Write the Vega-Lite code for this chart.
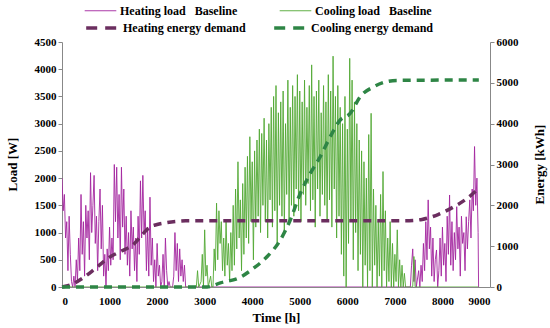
{
  "$schema": "https://vega.github.io/schema/vega-lite/v6.json",
  "width": 428,
  "height": 245,
  "autosize": {"type": "none"},
  "padding": {"left": 62, "top": 42, "right": 60, "bottom": 41},
  "background": "white",
  "config": {
    "view": {"stroke": null},
    "font": "Liberation Serif",
    "axis": {"labelFont": "Liberation Serif", "labelFontWeight": "bold", "labelFontSize": 11, "labelColor": "#000", "titleFont": "Liberation Serif", "titleFontWeight": "bold", "titleFontSize": 13, "titleColor": "#000", "domainColor": "#888", "tickColor": "#888", "grid": false, "tickSize": 4},
    "legend": {"labelFont": "Liberation Serif", "labelFontWeight": "bold", "labelFontSize": 12, "labelColor": "#000"}
  },
  "datasets": {
    "load": [
      {"s":"Heating load   Baseline","t":0,"v":2000},{"s":"Heating load   Baseline","t":25,"v":1400},{"s":"Heating load   Baseline","t":50,"v":1700},{"s":"Heating load   Baseline","t":75,"v":900},{"s":"Heating load   Baseline","t":100,"v":1200},{"s":"Heating load   Baseline","t":125,"v":300},{"s":"Heating load   Baseline","t":150,"v":1300},{"s":"Heating load   Baseline","t":175,"v":600},{"s":"Heating load   Baseline","t":200,"v":100},{"s":"Heating load   Baseline","t":225,"v":0},{"s":"Heating load   Baseline","t":250,"v":200},{"s":"Heating load   Baseline","t":275,"v":0},{"s":"Heating load   Baseline","t":300,"v":500},{"s":"Heating load   Baseline","t":325,"v":100},{"s":"Heating load   Baseline","t":350,"v":900},{"s":"Heating load   Baseline","t":375,"v":300},{"s":"Heating load   Baseline","t":400,"v":1700},{"s":"Heating load   Baseline","t":425,"v":600},{"s":"Heating load   Baseline","t":450,"v":1200},{"s":"Heating load   Baseline","t":475,"v":200},{"s":"Heating load   Baseline","t":500,"v":1500},{"s":"Heating load   Baseline","t":525,"v":900},{"s":"Heating load   Baseline","t":550,"v":1400},{"s":"Heating load   Baseline","t":575,"v":500},{"s":"Heating load   Baseline","t":600,"v":2100},{"s":"Heating load   Baseline","t":625,"v":1000},{"s":"Heating load   Baseline","t":650,"v":1500},{"s":"Heating load   Baseline","t":675,"v":2050},{"s":"Heating load   Baseline","t":700,"v":800},{"s":"Heating load   Baseline","t":725,"v":1300},{"s":"Heating load   Baseline","t":750,"v":300},{"s":"Heating load   Baseline","t":775,"v":1200},{"s":"Heating load   Baseline","t":800,"v":1800},{"s":"Heating load   Baseline","t":825,"v":700},{"s":"Heating load   Baseline","t":850,"v":1500},{"s":"Heating load   Baseline","t":875,"v":200},{"s":"Heating load   Baseline","t":900,"v":600},{"s":"Heating load   Baseline","t":925,"v":0},{"s":"Heating load   Baseline","t":950,"v":700},{"s":"Heating load   Baseline","t":975,"v":300},{"s":"Heating load   Baseline","t":1000,"v":1100},{"s":"Heating load   Baseline","t":1025,"v":400},{"s":"Heating load   Baseline","t":1050,"v":900},{"s":"Heating load   Baseline","t":1075,"v":500},{"s":"Heating load   Baseline","t":1100,"v":2250},{"s":"Heating load   Baseline","t":1125,"v":1200},{"s":"Heating load   Baseline","t":1150,"v":2200},{"s":"Heating load   Baseline","t":1175,"v":900},{"s":"Heating load   Baseline","t":1200,"v":1700},{"s":"Heating load   Baseline","t":1225,"v":500},{"s":"Heating load   Baseline","t":1250,"v":2200},{"s":"Heating load   Baseline","t":1275,"v":1100},{"s":"Heating load   Baseline","t":1300,"v":1800},{"s":"Heating load   Baseline","t":1325,"v":600},{"s":"Heating load   Baseline","t":1350,"v":1300},{"s":"Heating load   Baseline","t":1375,"v":400},{"s":"Heating load   Baseline","t":1400,"v":1000},{"s":"Heating load   Baseline","t":1425,"v":200},{"s":"Heating load   Baseline","t":1450,"v":1400},{"s":"Heating load   Baseline","t":1475,"v":700},{"s":"Heating load   Baseline","t":1500,"v":1100},{"s":"Heating load   Baseline","t":1525,"v":300},{"s":"Heating load   Baseline","t":1550,"v":900},{"s":"Heating load   Baseline","t":1575,"v":100},{"s":"Heating load   Baseline","t":1600,"v":1300},{"s":"Heating load   Baseline","t":1625,"v":600},{"s":"Heating load   Baseline","t":1650,"v":1950},{"s":"Heating load   Baseline","t":1675,"v":900},{"s":"Heating load   Baseline","t":1700,"v":2050},{"s":"Heating load   Baseline","t":1725,"v":1000},{"s":"Heating load   Baseline","t":1750,"v":1400},{"s":"Heating load   Baseline","t":1775,"v":300},{"s":"Heating load   Baseline","t":1800,"v":1100},{"s":"Heating load   Baseline","t":1825,"v":200},{"s":"Heating load   Baseline","t":1850,"v":1650},{"s":"Heating load   Baseline","t":1875,"v":400},{"s":"Heating load   Baseline","t":1900,"v":900},{"s":"Heating load   Baseline","t":1925,"v":100},{"s":"Heating load   Baseline","t":1950,"v":500},{"s":"Heating load   Baseline","t":1975,"v":0},{"s":"Heating load   Baseline","t":2000,"v":800},{"s":"Heating load   Baseline","t":2025,"v":200},{"s":"Heating load   Baseline","t":2050,"v":400},{"s":"Heating load   Baseline","t":2075,"v":0},{"s":"Heating load   Baseline","t":2100,"v":100},{"s":"Heating load   Baseline","t":2125,"v":600},{"s":"Heating load   Baseline","t":2150,"v":0},{"s":"Heating load   Baseline","t":2175,"v":900},{"s":"Heating load   Baseline","t":2200,"v":300},{"s":"Heating load   Baseline","t":2225,"v":0},{"s":"Heating load   Baseline","t":2250,"v":100},{"s":"Heating load   Baseline","t":2275,"v":0},{"s":"Heating load   Baseline","t":2325,"v":0},{"s":"Heating load   Baseline","t":2350,"v":200},{"s":"Heating load   Baseline","t":2375,"v":1000},{"s":"Heating load   Baseline","t":2400,"v":300},{"s":"Heating load   Baseline","t":2425,"v":800},{"s":"Heating load   Baseline","t":2450,"v":100},{"s":"Heating load   Baseline","t":2475,"v":700},{"s":"Heating load   Baseline","t":2500,"v":200},{"s":"Heating load   Baseline","t":2525,"v":500},{"s":"Heating load   Baseline","t":2550,"v":100},{"s":"Heating load   Baseline","t":2575,"v":400},{"s":"Heating load   Baseline","t":2600,"v":0},{"s":"Heating load   Baseline","t":7325,"v":0},{"s":"Heating load   Baseline","t":7350,"v":400},{"s":"Heating load   Baseline","t":7375,"v":700},{"s":"Heating load   Baseline","t":7400,"v":100},{"s":"Heating load   Baseline","t":7425,"v":500},{"s":"Heating load   Baseline","t":7450,"v":0},{"s":"Heating load   Baseline","t":7500,"v":300},{"s":"Heating load   Baseline","t":7525,"v":0},{"s":"Heating load   Baseline","t":7550,"v":400},{"s":"Heating load   Baseline","t":7575,"v":100},{"s":"Heating load   Baseline","t":7600,"v":800},{"s":"Heating load   Baseline","t":7625,"v":300},{"s":"Heating load   Baseline","t":7650,"v":1200},{"s":"Heating load   Baseline","t":7675,"v":500},{"s":"Heating load   Baseline","t":7700,"v":1600},{"s":"Heating load   Baseline","t":7725,"v":700},{"s":"Heating load   Baseline","t":7750,"v":1100},{"s":"Heating load   Baseline","t":7775,"v":200},{"s":"Heating load   Baseline","t":7800,"v":900},{"s":"Heating load   Baseline","t":7825,"v":100},{"s":"Heating load   Baseline","t":7850,"v":500},{"s":"Heating load   Baseline","t":7875,"v":680},{"s":"Heating load   Baseline","t":7900,"v":0},{"s":"Heating load   Baseline","t":7925,"v":300},{"s":"Heating load   Baseline","t":7950,"v":900},{"s":"Heating load   Baseline","t":7975,"v":200},{"s":"Heating load   Baseline","t":8000,"v":1100},{"s":"Heating load   Baseline","t":8025,"v":400},{"s":"Heating load   Baseline","t":8050,"v":800},{"s":"Heating load   Baseline","t":8075,"v":100},{"s":"Heating load   Baseline","t":8100,"v":1300},{"s":"Heating load   Baseline","t":8125,"v":600},{"s":"Heating load   Baseline","t":8150,"v":1690},{"s":"Heating load   Baseline","t":8175,"v":400},{"s":"Heating load   Baseline","t":8200,"v":1200},{"s":"Heating load   Baseline","t":8225,"v":300},{"s":"Heating load   Baseline","t":8250,"v":1000},{"s":"Heating load   Baseline","t":8275,"v":500},{"s":"Heating load   Baseline","t":8300,"v":1475},{"s":"Heating load   Baseline","t":8325,"v":700},{"s":"Heating load   Baseline","t":8350,"v":1100},{"s":"Heating load   Baseline","t":8375,"v":200},{"s":"Heating load   Baseline","t":8400,"v":1300},{"s":"Heating load   Baseline","t":8425,"v":800},{"s":"Heating load   Baseline","t":8450,"v":1000},{"s":"Heating load   Baseline","t":8475,"v":300},{"s":"Heating load   Baseline","t":8500,"v":1290},{"s":"Heating load   Baseline","t":8525,"v":700},{"s":"Heating load   Baseline","t":8550,"v":1200},{"s":"Heating load   Baseline","t":8575,"v":1600},{"s":"Heating load   Baseline","t":8600,"v":900},{"s":"Heating load   Baseline","t":8625,"v":1800},{"s":"Heating load   Baseline","t":8650,"v":1400},{"s":"Heating load   Baseline","t":8675,"v":2580},{"s":"Heating load   Baseline","t":8700,"v":1500},{"s":"Heating load   Baseline","t":8725,"v":2000},{"s":"Heating load   Baseline","t":8750,"v":1000},{"s":"Heating load   Baseline","t":8760,"v":0},
      {"s":"Cooling load   Baseline","t":0,"v":0},{"s":"Cooling load   Baseline","t":2825,"v":0},{"s":"Cooling load   Baseline","t":2850,"v":300},{"s":"Cooling load   Baseline","t":2875,"v":0},{"s":"Cooling load   Baseline","t":2925,"v":100},{"s":"Cooling load   Baseline","t":2950,"v":600},{"s":"Cooling load   Baseline","t":2975,"v":0},{"s":"Cooling load   Baseline","t":3000,"v":1050},{"s":"Cooling load   Baseline","t":3025,"v":200},{"s":"Cooling load   Baseline","t":3050,"v":400},{"s":"Cooling load   Baseline","t":3075,"v":0},{"s":"Cooling load   Baseline","t":3125,"v":200},{"s":"Cooling load   Baseline","t":3150,"v":0},{"s":"Cooling load   Baseline","t":3175,"v":0},{"s":"Cooling load   Baseline","t":3200,"v":700},{"s":"Cooling load   Baseline","t":3225,"v":300},{"s":"Cooling load   Baseline","t":3250,"v":1540},{"s":"Cooling load   Baseline","t":3275,"v":500},{"s":"Cooling load   Baseline","t":3300,"v":1400},{"s":"Cooling load   Baseline","t":3325,"v":800},{"s":"Cooling load   Baseline","t":3350,"v":1200},{"s":"Cooling load   Baseline","t":3375,"v":300},{"s":"Cooling load   Baseline","t":3400,"v":900},{"s":"Cooling load   Baseline","t":3425,"v":200},{"s":"Cooling load   Baseline","t":3450,"v":1200},{"s":"Cooling load   Baseline","t":3475,"v":400},{"s":"Cooling load   Baseline","t":3500,"v":800},{"s":"Cooling load   Baseline","t":3525,"v":100},{"s":"Cooling load   Baseline","t":3550,"v":1000},{"s":"Cooling load   Baseline","t":3575,"v":300},{"s":"Cooling load   Baseline","t":3600,"v":1500},{"s":"Cooling load   Baseline","t":3625,"v":400},{"s":"Cooling load   Baseline","t":3650,"v":1800},{"s":"Cooling load   Baseline","t":3675,"v":700},{"s":"Cooling load   Baseline","t":3700,"v":2300},{"s":"Cooling load   Baseline","t":3725,"v":900},{"s":"Cooling load   Baseline","t":3750,"v":1600},{"s":"Cooling load   Baseline","t":3775,"v":300},{"s":"Cooling load   Baseline","t":3800,"v":1900},{"s":"Cooling load   Baseline","t":3825,"v":600},{"s":"Cooling load   Baseline","t":3850,"v":2200},{"s":"Cooling load   Baseline","t":3875,"v":900},{"s":"Cooling load   Baseline","t":3900,"v":2400},{"s":"Cooling load   Baseline","t":3925,"v":800},{"s":"Cooling load   Baseline","t":3950,"v":2760},{"s":"Cooling load   Baseline","t":3975,"v":1200},{"s":"Cooling load   Baseline","t":4000,"v":2300},{"s":"Cooling load   Baseline","t":4025,"v":500},{"s":"Cooling load   Baseline","t":4050,"v":2500},{"s":"Cooling load   Baseline","t":4075,"v":1100},{"s":"Cooling load   Baseline","t":4100,"v":2700},{"s":"Cooling load   Baseline","t":4125,"v":1300},{"s":"Cooling load   Baseline","t":4150,"v":2900},{"s":"Cooling load   Baseline","t":4175,"v":1000},{"s":"Cooling load   Baseline","t":4200,"v":2820},{"s":"Cooling load   Baseline","t":4225,"v":1500},{"s":"Cooling load   Baseline","t":4250,"v":3100},{"s":"Cooling load   Baseline","t":4275,"v":1200},{"s":"Cooling load   Baseline","t":4300,"v":2700},{"s":"Cooling load   Baseline","t":4325,"v":900},{"s":"Cooling load   Baseline","t":4350,"v":3000},{"s":"Cooling load   Baseline","t":4375,"v":1600},{"s":"Cooling load   Baseline","t":4400,"v":3300},{"s":"Cooling load   Baseline","t":4425,"v":1100},{"s":"Cooling load   Baseline","t":4450,"v":3500},{"s":"Cooling load   Baseline","t":4475,"v":1400},{"s":"Cooling load   Baseline","t":4500,"v":3700},{"s":"Cooling load   Baseline","t":4525,"v":800},{"s":"Cooling load   Baseline","t":4550,"v":3200},{"s":"Cooling load   Baseline","t":4575,"v":1500},{"s":"Cooling load   Baseline","t":4600,"v":3400},{"s":"Cooling load   Baseline","t":4625,"v":1300},{"s":"Cooling load   Baseline","t":4650,"v":3600},{"s":"Cooling load   Baseline","t":4675,"v":1000},{"s":"Cooling load   Baseline","t":4700,"v":3000},{"s":"Cooling load   Baseline","t":4725,"v":1700},{"s":"Cooling load   Baseline","t":4750,"v":3800},{"s":"Cooling load   Baseline","t":4775,"v":1200},{"s":"Cooling load   Baseline","t":4800,"v":3300},{"s":"Cooling load   Baseline","t":4825,"v":1500},{"s":"Cooling load   Baseline","t":4850,"v":3700},{"s":"Cooling load   Baseline","t":4875,"v":1300},{"s":"Cooling load   Baseline","t":4900,"v":3500},{"s":"Cooling load   Baseline","t":4925,"v":1800},{"s":"Cooling load   Baseline","t":4950,"v":3900},{"s":"Cooling load   Baseline","t":4975,"v":1400},{"s":"Cooling load   Baseline","t":5000,"v":3600},{"s":"Cooling load   Baseline","t":5025,"v":1200},{"s":"Cooling load   Baseline","t":5050,"v":3400},{"s":"Cooling load   Baseline","t":5075,"v":1700},{"s":"Cooling load   Baseline","t":5100,"v":3800},{"s":"Cooling load   Baseline","t":5125,"v":1500},{"s":"Cooling load   Baseline","t":5150,"v":3300},{"s":"Cooling load   Baseline","t":5175,"v":1900},{"s":"Cooling load   Baseline","t":5200,"v":3700},{"s":"Cooling load   Baseline","t":5225,"v":1400},{"s":"Cooling load   Baseline","t":5250,"v":4080},{"s":"Cooling load   Baseline","t":5275,"v":1600},{"s":"Cooling load   Baseline","t":5300,"v":3500},{"s":"Cooling load   Baseline","t":5325,"v":1100},{"s":"Cooling load   Baseline","t":5350,"v":3600},{"s":"Cooling load   Baseline","t":5375,"v":1800},{"s":"Cooling load   Baseline","t":5400,"v":3800},{"s":"Cooling load   Baseline","t":5425,"v":1300},{"s":"Cooling load   Baseline","t":5450,"v":3200},{"s":"Cooling load   Baseline","t":5475,"v":1700},{"s":"Cooling load   Baseline","t":5500,"v":3700},{"s":"Cooling load   Baseline","t":5525,"v":1500},{"s":"Cooling load   Baseline","t":5550,"v":3400},{"s":"Cooling load   Baseline","t":5575,"v":1200},{"s":"Cooling load   Baseline","t":5600,"v":3900},{"s":"Cooling load   Baseline","t":5625,"v":1600},{"s":"Cooling load   Baseline","t":5650,"v":3600},{"s":"Cooling load   Baseline","t":5675,"v":1100},{"s":"Cooling load   Baseline","t":5700,"v":4240},{"s":"Cooling load   Baseline","t":5725,"v":1800},{"s":"Cooling load   Baseline","t":5750,"v":3500},{"s":"Cooling load   Baseline","t":5775,"v":900},{"s":"Cooling load   Baseline","t":5800,"v":3700},{"s":"Cooling load   Baseline","t":5825,"v":1300},{"s":"Cooling load   Baseline","t":5850,"v":3300},{"s":"Cooling load   Baseline","t":5875,"v":600},{"s":"Cooling load   Baseline","t":5900,"v":3000},{"s":"Cooling load   Baseline","t":5925,"v":200},{"s":"Cooling load   Baseline","t":5950,"v":3500},{"s":"Cooling load   Baseline","t":5975,"v":0},{"s":"Cooling load   Baseline","t":6000,"v":2900},{"s":"Cooling load   Baseline","t":6025,"v":800},{"s":"Cooling load   Baseline","t":6050,"v":4200},{"s":"Cooling load   Baseline","t":6075,"v":1200},{"s":"Cooling load   Baseline","t":6100,"v":3800},{"s":"Cooling load   Baseline","t":6125,"v":500},{"s":"Cooling load   Baseline","t":6150,"v":3400},{"s":"Cooling load   Baseline","t":6175,"v":1000},{"s":"Cooling load   Baseline","t":6200,"v":3000},{"s":"Cooling load   Baseline","t":6225,"v":300},{"s":"Cooling load   Baseline","t":6250,"v":2700},{"s":"Cooling load   Baseline","t":6275,"v":600},{"s":"Cooling load   Baseline","t":6300,"v":2500},{"s":"Cooling load   Baseline","t":6325,"v":0},{"s":"Cooling load   Baseline","t":6350,"v":2300},{"s":"Cooling load   Baseline","t":6375,"v":400},{"s":"Cooling load   Baseline","t":6400,"v":2000},{"s":"Cooling load   Baseline","t":6425,"v":0},{"s":"Cooling load   Baseline","t":6450,"v":2800},{"s":"Cooling load   Baseline","t":6475,"v":300},{"s":"Cooling load   Baseline","t":6500,"v":3190},{"s":"Cooling load   Baseline","t":6525,"v":0},{"s":"Cooling load   Baseline","t":6550,"v":1800},{"s":"Cooling load   Baseline","t":6575,"v":400},{"s":"Cooling load   Baseline","t":6600,"v":1500},{"s":"Cooling load   Baseline","t":6625,"v":0},{"s":"Cooling load   Baseline","t":6650,"v":1200},{"s":"Cooling load   Baseline","t":6675,"v":200},{"s":"Cooling load   Baseline","t":6700,"v":1700},{"s":"Cooling load   Baseline","t":6725,"v":0},{"s":"Cooling load   Baseline","t":6750,"v":2120},{"s":"Cooling load   Baseline","t":6775,"v":300},{"s":"Cooling load   Baseline","t":6800,"v":1400},{"s":"Cooling load   Baseline","t":6825,"v":0},{"s":"Cooling load   Baseline","t":6850,"v":900},{"s":"Cooling load   Baseline","t":6875,"v":100},{"s":"Cooling load   Baseline","t":6900,"v":1200},{"s":"Cooling load   Baseline","t":6925,"v":0},{"s":"Cooling load   Baseline","t":6950,"v":800},{"s":"Cooling load   Baseline","t":6975,"v":0},{"s":"Cooling load   Baseline","t":7000,"v":600},{"s":"Cooling load   Baseline","t":7025,"v":100},{"s":"Cooling load   Baseline","t":7050,"v":1050},{"s":"Cooling load   Baseline","t":7075,"v":0},{"s":"Cooling load   Baseline","t":7100,"v":500},{"s":"Cooling load   Baseline","t":7125,"v":0},{"s":"Cooling load   Baseline","t":7150,"v":400},{"s":"Cooling load   Baseline","t":7175,"v":0},{"s":"Cooling load   Baseline","t":7200,"v":250},{"s":"Cooling load   Baseline","t":7225,"v":0},{"s":"Cooling load   Baseline","t":7375,"v":0},{"s":"Cooling load   Baseline","t":7400,"v":560},{"s":"Cooling load   Baseline","t":7425,"v":0},{"s":"Cooling load   Baseline","t":8760,"v":0}
    ],
    "energy": [
      {"g":"Heating energy demand","t":0,"e":0},{"g":"Heating energy demand","t":200,"e":60},{"g":"Heating energy demand","t":440,"e":220},{"g":"Heating energy demand","t":700,"e":450},{"g":"Heating energy demand","t":1000,"e":730},{"g":"Heating energy demand","t":1250,"e":880},{"g":"Heating energy demand","t":1490,"e":1030},{"g":"Heating energy demand","t":1700,"e":1300},{"g":"Heating energy demand","t":1850,"e":1470},{"g":"Heating energy demand","t":2000,"e":1530},{"g":"Heating energy demand","t":2200,"e":1575},{"g":"Heating energy demand","t":2400,"e":1605},{"g":"Heating energy demand","t":2600,"e":1620},{"g":"Heating energy demand","t":7300,"e":1625},{"g":"Heating energy demand","t":7570,"e":1655},{"g":"Heating energy demand","t":7920,"e":1780},{"g":"Heating energy demand","t":8240,"e":1965},{"g":"Heating energy demand","t":8520,"e":2170},{"g":"Heating energy demand","t":8765,"e":2420},
      {"g":"Cooling energy demand","t":0,"e":0},{"g":"Cooling energy demand","t":3050,"e":0},{"g":"Cooling energy demand","t":3330,"e":100},{"g":"Cooling energy demand","t":3750,"e":240},{"g":"Cooling energy demand","t":4030,"e":460},{"g":"Cooling energy demand","t":4310,"e":740},{"g":"Cooling energy demand","t":4590,"e":1150},{"g":"Cooling energy demand","t":4800,"e":1640},{"g":"Cooling energy demand","t":5010,"e":2290},{"g":"Cooling energy demand","t":5220,"e":2780},{"g":"Cooling energy demand","t":5430,"e":3190},{"g":"Cooling energy demand","t":5640,"e":3680},{"g":"Cooling energy demand","t":5850,"e":4090},{"g":"Cooling energy demand","t":6060,"e":4250},{"g":"Cooling energy demand","t":6270,"e":4660},{"g":"Cooling energy demand","t":6550,"e":4900},{"g":"Cooling energy demand","t":6830,"e":5030},{"g":"Cooling energy demand","t":7050,"e":5060},{"g":"Cooling energy demand","t":8765,"e":5070}
    ]
  },
  "layer": [
    {
      "data": {"name": "load"},
      "mark": {"type": "line", "strokeWidth": 1, "opacity": 0.9, "clip": true},
      "encoding": {
        "x": {"field": "t", "type": "quantitative", "scale": {"domain": [0, 9000]}, "axis": {"title": "Time [h]", "format": "d", "values": [0,1000,2000,3000,4000,5000,6000,7000,8000,9000], "ticks": false, "labelPadding": 8, "titlePadding": 5, "labelFont": "Liberation Serif", "labelFontWeight": "bold"}},
        "y": {"field": "v", "type": "quantitative", "scale": {"domain": [0, 4500]}, "axis": {"title": "Load [W]", "format": "d", "values": [0,500,1000,1500,2000,2500,3000,3500,4000,4500], "titleX": -50, "titleY": 122, "titleAngle": 270, "titleAlign": "center", "titleBaseline": "middle", "labelFont": "Liberation Serif", "labelFontWeight": "bold"}},
        "stroke": {"field": "s", "type": "nominal", "scale": {"domain": ["Heating load   Baseline", "Cooling load   Baseline"], "range": ["#a3259f", "#52a834"]}, "legend": {"title": null, "orient": "none", "direction": "horizontal", "legendX": 22, "legendY": -48, "columnPadding": 39, "symbolType": "stroke", "symbolSize": 1000, "symbolStrokeWidth": 1, "labelOffset": 3, "labelExpr": "replace(datum.label, '   ', '\u00a0\u00a0\u00a0')"}}
      }
    },
    {
      "data": {"name": "energy"},
      "mark": {"type": "line", "interpolate": "monotone", "strokeWidth": 3.5},
      "encoding": {
        "x": {"field": "t", "type": "quantitative"},
        "y": {"field": "e", "type": "quantitative", "scale": {"domain": [0, 6000]}, "axis": {"orient": "right", "title": "Energy [kWh]", "format": "d", "titleAngle": 270, "titleX": 49, "titleY": 122, "titleAlign": "center", "titleBaseline": "middle", "values": [0,1000,2000,3000,4000,5000,6000], "labelFont": "Liberation Serif", "labelFontWeight": "bold"}},
        "color": {"field": "g", "type": "nominal", "scale": {"domain": ["Heating energy demand", "Cooling energy demand"], "range": ["#6b2e5f", "#2e8545"]}, "legend": {"title": null, "orient": "none", "direction": "horizontal", "legendX": 22, "legendY": -32, "columnPadding": 21, "symbolType": "stroke", "symbolSize": 1000, "symbolStrokeWidth": 3.5, "symbolDash": [11, 8], "labelOffset": 3}},
        "strokeDash": {"value": [8, 6]}
      }
    }
  ],
  "resolve": {"scale": {"y": "independent"}}
}
